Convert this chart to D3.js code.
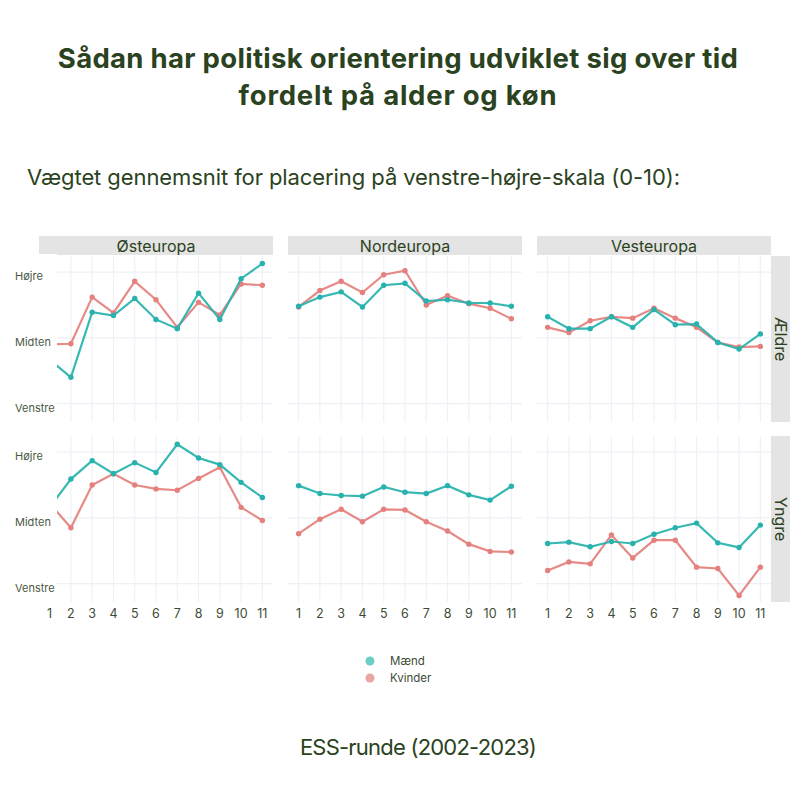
<!DOCTYPE html>
<html>
<head>
<meta charset="utf-8">
<script src="https://cdn.jsdelivr.net/npm/d3@7"></script>
<style>
  body { margin: 0; background: #fff; }
  svg { display: block; font-family: Inter, "Noto Sans", sans-serif; }
</style>
</head>
<body>
<svg id="chart" width="800" height="800"></svg>
<script>
// ESS rounds on the x axis
var rounds = [1, 2, 3, 4, 5, 6, 7, 8, 9, 10, 11];
var regions = ["Østeuropa", "Nordeuropa", "Vesteuropa"];
var ages = ["Ældre", "Yngre"];
var genders = ["Mænd", "Kvinder"];

// y tick labels, placed at 0 / 1 / 2 on the chart's own scale
var yTickLabels = ["Venstre", "Midten", "Højre"];
var yTickValues = [0, 1, 2];

// values (0 = Venstre, 1 = Midten, 2 = Højre)
var oestAeldreMaend   = [0.67, 0.40, 1.39, 1.34, 1.60, 1.28, 1.14, 1.68, 1.28, 1.90, 2.13];
var oestAeldreKvinder = [0.90, 0.91, 1.62, 1.38, 1.86, 1.58, 1.16, 1.54, 1.35, 1.82, 1.80];
var nordAeldreMaend   = [1.48, 1.62, 1.70, 1.47, 1.80, 1.83, 1.56, 1.58, 1.53, 1.53, 1.48];
var nordAeldreKvinder = [1.47, 1.72, 1.86, 1.69, 1.96, 2.02, 1.50, 1.64, 1.52, 1.45, 1.29];
var vestAeldreMaend   = [1.32, 1.14, 1.14, 1.32, 1.16, 1.43, 1.20, 1.21, 0.93, 0.83, 1.06];
var vestAeldreKvinder = [1.16, 1.08, 1.26, 1.32, 1.30, 1.45, 1.30, 1.16, 0.93, 0.86, 0.87];
var oestYngreMaend    = [1.16, 1.59, 1.87, 1.67, 1.84, 1.69, 2.12, 1.91, 1.81, 1.54, 1.31];
var oestYngreKvinder  = [1.22, 0.85, 1.50, 1.67, 1.50, 1.44, 1.42, 1.60, 1.77, 1.16, 0.96];
var nordYngreMaend    = [1.49, 1.37, 1.34, 1.33, 1.47, 1.39, 1.37, 1.49, 1.35, 1.27, 1.48];
var nordYngreKvinder  = [0.76, 0.98, 1.13, 0.94, 1.13, 1.12, 0.94, 0.80, 0.60, 0.49, 0.48];
var vestYngreMaend    = [0.61, 0.63, 0.56, 0.64, 0.61, 0.75, 0.85, 0.92, 0.62, 0.55, 0.89];
var vestYngreKvinder  = [0.20, 0.33, 0.30, 0.74, 0.39, 0.66, 0.66, 0.25, 0.23, -0.18, 0.25];

// panels: [age][region] -> {Mænd, Kvinder}
var panelData = [
	[
		{ m: oestAeldreMaend, k: oestAeldreKvinder },
		{ m: nordAeldreMaend, k: nordAeldreKvinder },
		{ m: vestAeldreMaend, k: vestAeldreKvinder }
	],
	[
		{ m: oestYngreMaend, k: oestYngreKvinder },
		{ m: nordYngreMaend, k: nordYngreKvinder },
		{ m: vestYngreMaend, k: vestYngreKvinder }
	]
];

var colMaend = "#27b2ad", colKvinder = "#e4807d";
var legMaend = "#6ccdc9", legKvinder = "#e9a4a3";
var textDark = "#2b4221", textMid = "#3d4b36";

var svg = d3.select("#chart");

// layout of the facet grid
var colLeft = [39, 288, 537];
var panelW = 234;
var rowTop = [256, 436];
var panelH = 166;
var stripH = 19;

var x = d3.scaleLinear().domain([0.5, 11.5]).range([0, panelW]);
var y = d3.scaleLinear().domain([-0.28, 2.245]).range([panelH, 0]);

//fit a text element to a given width by adjusting letter spacing
function fitWidth(sel, target) {
	var n = sel.text().length;
	var w = sel.node().getComputedTextLength();
	sel.attr("letter-spacing", ((target - w) / (n - 1)).toFixed(3));
}

// titles
var t1 = svg.append("text").attr("x", 398).attr("y", 68).attr("text-anchor", "middle")
	.attr("font-size", 27.5).attr("font-weight", 700).attr("fill", textDark)
	.text("Sådan har politisk orientering udviklet sig over tid");
fitWidth(t1, 680);
var t2 = svg.append("text").attr("x", 398).attr("y", 105).attr("text-anchor", "middle")
	.attr("font-size", 27.5).attr("font-weight", 700).attr("fill", textDark)
	.text("fordelt på alder og køn");
fitWidth(t2, 318);

var sub = svg.append("text").attr("x", 27).attr("y", 185)
	.attr("font-size", 22).attr("fill", textDark)
	.text("Vægtet gennemsnit for placering på venstre-højre-skala (0-10):");
fitWidth(sub, 653);

var line = d3.line()
	.x(function(d, i) { return x(rounds[i]); })
	.y(function(d) { return y(d); });

ages.forEach(function(age, r) {
	regions.forEach(function(region, c) {
		var g = svg.append("g").attr("transform", "translate(" + colLeft[c] + "," + rowTop[r] + ")");

		// grid lines
		g.selectAll("line.vg").data(rounds).enter().append("line")
			.attr("x1", function(d) { return x(d); }).attr("x2", function(d) { return x(d); })
			.attr("y1", 0).attr("y2", panelH)
			.attr("stroke", "#f0f1f6").attr("stroke-width", 1.2);
		g.selectAll("line.hg").data(yTickValues).enter().append("line")
			.attr("x1", 0).attr("x2", panelW)
			.attr("y1", function(d) { return y(d); }).attr("y2", function(d) { return y(d); })
			.attr("stroke", "#eef0f5").attr("stroke-width", 1.2);

		var d = panelData[r][c];
		[[d.k, colKvinder], [d.m, colMaend]].forEach(function(s) {
			g.append("path").datum(s[0])
				.attr("d", line).attr("fill", "none")
				.attr("stroke", s[1]).attr("stroke-width", 2.2).attr("stroke-opacity", 0.92);
			g.selectAll(null).data(s[0]).enter().append("circle")
				.attr("cx", function(v, i) { return x(rounds[i]); })
				.attr("cy", function(v) { return y(v); })
				.attr("r", 2.7).attr("fill", s[1]);
		});

		// top strips
		if (r === 0) {
			svg.append("rect").attr("x", colLeft[c]).attr("y", rowTop[0] - stripH - 1)
				.attr("width", panelW).attr("height", stripH).attr("fill", "#e4e4e4");
			svg.append("text").attr("x", colLeft[c] + panelW / 2).attr("y", rowTop[0] - stripH / 2 - 1)
				.attr("text-anchor", "middle").attr("dominant-baseline", "central")
				.attr("font-size", 16).attr("fill", textDark).text(region);
		}

		// x tick labels under bottom row
		if (r === 1) {
			svg.selectAll(null).data(rounds).enter().append("text")
				.attr("x", function(v) { return colLeft[c] + x(v); })
				.attr("y", 613).attr("text-anchor", "middle").attr("dominant-baseline", "central")
				.attr("font-size", 12.5).attr("fill", textMid).text(function(v) { return v; });
		}
	});

	// right strip
	var sx = colLeft[2] + panelW;
	svg.append("rect").attr("x", sx).attr("y", rowTop[r]).attr("width", stripH).attr("height", panelH)
		.attr("fill", "#e4e4e4");
	svg.append("text")
		.attr("transform", "translate(" + (sx + stripH / 2) + "," + (rowTop[r] + panelH / 2) + ") rotate(90)")
		.attr("text-anchor", "middle").attr("dominant-baseline", "central")
		.attr("font-size", 16).attr("fill", textDark).text(age);

	// white box over the left edge, then the word labels on the y axis
	svg.append("rect").attr("x", 0).attr("y", rowTop[r] - 2).attr("width", 57).attr("height", panelH + 4)
		.attr("fill", "#fff");
	svg.selectAll(null).data(yTickValues).enter().append("text")
		.attr("x", 15).attr("y", function(v) { return rowTop[r] + y(v) + 4; })
		.attr("dominant-baseline", "central")
		.attr("font-size", 11).attr("fill", "#4c5a45")
		.text(function(v, i) { return yTickLabels[i]; });
});

// legend
var leg = svg.append("g");
[[genders[0], legMaend], [genders[1], legKvinder]].forEach(function(l, i) {
	leg.append("circle").attr("cx", 370).attr("cy", 661 + i * 17).attr("r", 4.5).attr("fill", l[1]);
	leg.append("text").attr("x", 390).attr("y", 661 + i * 17).attr("dominant-baseline", "central")
		.attr("font-size", 11.5).attr("fill", textMid).text(l[0]);
});

// x axis title
var xt = svg.append("text").attr("x", 418).attr("y", 755).attr("text-anchor", "middle")
	.attr("font-size", 22).attr("fill", textDark).text("ESS-runde (2002-2023)");
fitWidth(xt, 237);
</script>
</body>
</html>
